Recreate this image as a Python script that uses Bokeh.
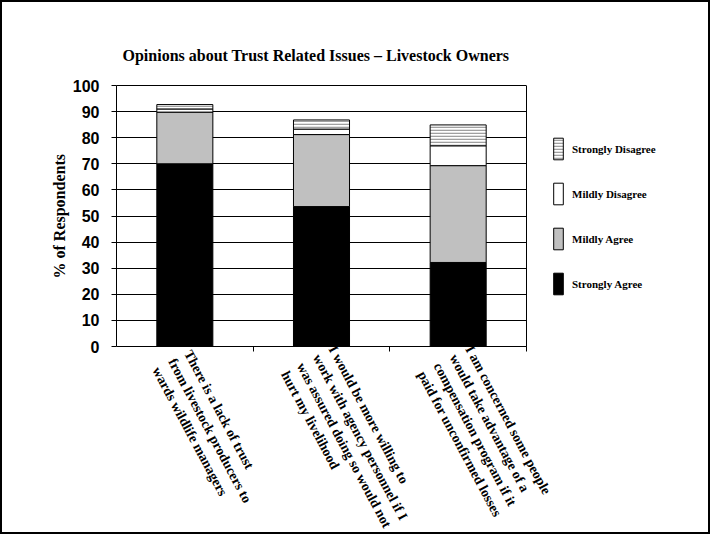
from bokeh.plotting import figure
from bokeh.models import (Range1d, FixedTicker, Legend, LegendItem, ColumnDataSource,
                          LinearAxis, Grid, Title)
from bokeh.core.properties import value
from bokeh.embed import file_html
from bokeh.resources import INLINE

# ---------------- data ----------------
categories = [
    "There is a lack of trust\nfrom livestock producers to\nwards wildlife managers",
    "I would be more willing to\nwork with agency personnel if I\nwas assured doing so would not\nhurt my livelihood",
    "I am concerned some people\nwould take advantage of a\ncompensation program if it\npaid for unconfirmed losses",
]
series_names = ["Strongly Agree", "Mildly Agree", "Mildly Disagree", "Strongly Disagree"]
strongly_agree = [70.0, 53.6, 32.2]
mildly_agree = [19.8, 27.6, 37.1]
mildly_disagree = [1.2, 2.1, 7.6]
strongly_disagree = [1.7, 3.5, 8.0]
y_ticks = [0, 10, 20, 30, 40, 50, 60, 70, 80, 90, 100]

title_text = "Opinions about Trust Related Issues \u2013 Livestock Owners"
y_title = "% of Respondents"

# ---------------- layout constants ----------------
W, H = 706, 530
LEFT, TOP, RIGHT, BOTTOM = 114, 83, 4, 0
FRAME_W = W - LEFT - RIGHT
FRAME_H = H - TOP - BOTTOM
n = len(categories)
PX_PER_CAT = 410 / n        # plot area is 410 px wide
PX_PER_UNIT = 2.61          # 0..100 % -> 261 px
X_END = FRAME_W / PX_PER_CAT
Y_START = 100 - FRAME_H / PX_PER_UNIT

x_pos = [i + 0.5 for i in range(n)]
boundaries = [i + 1 for i in range(n)]
keys = ["sa", "ma", "md", "sd"]
source = ColumnDataSource(dict(x=x_pos, sa=strongly_agree, ma=mildly_agree,
                               md=mildly_disagree, sd=strongly_disagree))
label_source = ColumnDataSource(dict(x=x_pos, y=[0] * n, text=categories))

p = figure(frame_width=FRAME_W, frame_height=FRAME_H,
           x_range=Range1d(0, X_END), y_range=Range1d(Y_START, 100),
           output_backend="svg", toolbar_location=None,
           min_border_left=LEFT, min_border_right=RIGHT, min_border_top=TOP,
           min_border_bottom=BOTTOM,
           background_fill_color="white", border_fill_color="white",
           x_axis_location=None, y_axis_location=None, title=None)
p.styles = {"border": "2px solid #000000"}
p.outline_line_color = None
p.xgrid.visible = False
p.ygrid.visible = False

# horizontal grid lines, only across the plot area
p.add_layout(Grid(dimension=1, ticker=FixedTicker(ticks=y_ticks), cross_bounds=(0, n),
                  grid_line_color="#000000", grid_line_width=1))

renderers = p.vbar_stack(keys, x="x", width=0.41, source=source,
                         fill_color=["#000000", "#c0c0c0", "#ffffff", "#ffffff"],
                         line_color="#000000", line_width=1,
                         hatch_pattern=[None, None, None, "-"],
                         hatch_color="#a0a0a0", hatch_scale=3, hatch_weight=1.6)

# category labels (rotated, multi-line) hanging below the 0 line
p.text(x="x", y="y", text="text", source=label_source,
       angle=-1.08, text_align="left", text_baseline="middle",
       x_offset=-13, y_offset=13,
       text_font=value("Liberation Serif"), text_font_style="bold",
       text_font_size="13.8px", text_color="#000000", text_line_height=1.2)

# left y axis (0..100 only)
yaxis = LinearAxis(ticker=FixedTicker(ticks=y_ticks), bounds=(0, 100))
yaxis.major_label_text_font = "Liberation Sans"
yaxis.major_label_text_font_style = "bold"
yaxis.major_label_text_font_size = "16px"
yaxis.major_label_text_color = "#000000"
yaxis.major_tick_out = 5
yaxis.major_tick_in = 0
yaxis.minor_tick_line_color = None
yaxis.major_label_standoff = 12
yaxis.axis_line_color = "#000000"
yaxis.major_tick_line_color = "#000000"
p.add_layout(yaxis, "left")

# y axis title
ytitle = Title(text=y_title, align="left", offset=FRAME_H - 193, standoff=4,
               text_font="Liberation Serif", text_font_style="bold",
               text_font_size="16px", text_color="#000000")
p.add_layout(ytitle, "left")

# right border of plot area
raxis = LinearAxis(ticker=FixedTicker(ticks=[]), bounds=(0, 100), fixed_location=n,
                   major_tick_out=0, major_tick_in=0, major_label_standoff=0,
                   axis_line_color="#000000")
p.add_layout(raxis, "right")

# top border of plot area
taxis = LinearAxis(ticker=FixedTicker(ticks=[]), bounds=(0, n),
                   major_tick_out=0, major_tick_in=0, major_label_standoff=0,
                   axis_line_color="#000000")
p.add_layout(taxis, "above")

# x axis at 0 with downward ticks at the category boundaries
xaxis = LinearAxis(ticker=FixedTicker(ticks=[], minor_ticks=boundaries), fixed_location=0,
                   bounds=(0, n),
                   major_tick_out=0, major_tick_in=0, major_label_standoff=0,
                   minor_tick_out=0, minor_tick_in=5,
                   minor_tick_line_color="#000000", axis_line_color="#000000")
p.add_layout(xaxis, "above")

# chart title
p.add_layout(Title(text=title_text, align="left", offset=6, standoff=44,
                   text_font="Liberation Serif", text_font_style="bold",
                   text_font_size="16px", text_color="#000000"), "above")

# legend: one column, top to bottom SD, MD, MA, SA
GLYPH_H, SPACING = 27, 18
legend_h = 4 * GLYPH_H + 3 * SPACING
legend = Legend(items=[LegendItem(label=name, renderers=[r])
                       for r, name in reversed(list(zip(renderers, series_names)))],
                location=(436, FRAME_H - 50 - legend_h),
                glyph_width=12, glyph_height=GLYPH_H, spacing=SPACING, label_standoff=8,
                padding=0, margin=0,
                border_line_color=None, background_fill_alpha=0,
                label_text_font="Liberation Serif", label_text_font_style="bold",
                label_text_font_size="11px", label_text_color="#000000")
p.add_layout(legend, "center")

open("out.html", "w").write(file_html(p, INLINE))
